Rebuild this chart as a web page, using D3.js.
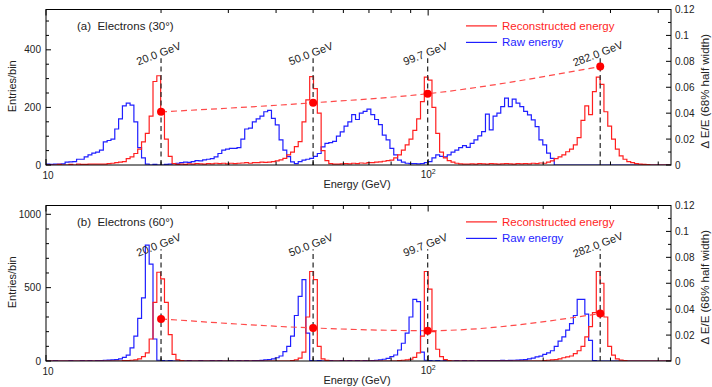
<!DOCTYPE html>
<html><head><meta charset="utf-8">
<script src="https://cdn.jsdelivr.net/npm/d3@7/dist/d3.min.js"></script>
<style>body{margin:0;background:#fff}svg{display:block;font-family:"Liberation Sans",Arial,Helvetica,sans-serif}</style>
</head><body><svg id="c" width="712" height="387"></svg>
<script>
// ---------------- data ----------------
const beamEnergies = [20.0, 50.0, 99.7, 282.0];
const beamLabels = ["20.0 GeV", "50.0 GeV", "99.7 GeV", "282.0 GeV"];
const resolutionA = [0.041, 0.048, 0.055, 0.076];
const resolutionB = [0.0325, 0.0255, 0.0234, 0.0366];

// histogram binning: log10(E) from 1.00 in steps of 0.01
const binLog0 = 1.0, binLogStep = 0.01, nBins = 164;

// Panel (a) Electrons 30 deg
const rawA = [
 3,2,3,3,4,10,11,12,20,20,
 28,35,41,45,52,80,85,90,125,160,
 205,215,208,150,60,25,3,0,2,0,
 0,2,3,5,6,8,10,9,12,15,
 14,18,20,22,28,40,52,55,58,58,
 60,90,125,128,150,160,170,185,190,162,
 139,87,52,29,11,5,12,17,20,23,
 30,40,63,75,78,82,100,115,135,150,
 175,158,180,186,194,175,158,140,104,87,
 58,35,17,10,6,5,5,4,5,8,
 12,25,35,30,28,35,45,52,60,67,
 61,75,87,101,116,177,122,170,180,203,
 232,203,229,215,203,186,174,157,133,87,
 70,41,23,0];
const recoA = [
 0,0,0,2,0,0,2,0,3,2,
 2,3,3,3,3,3,5,6,8,10,
 12,22,28,40,55,80,110,170,290,310,
 190,90,30,5,2,3,2,4,3,5,
 4,3,5,4,6,5,6,4,6,5,
 6,7,8,6,8,8,10,9,10,12,
 14,18,23,35,45,64,81,150,226,307,
 265,180,50,15,5,3,3,4,5,4,
 6,5,7,6,8,8,10,11,13,15,
 17,25,35,52,70,90,120,160,220,305,
 295,200,110,45,25,15,10,6,4,3,
 3,4,3,5,4,3,5,4,3,4,
 5,4,3,5,4,5,4,6,5,7,
 6,10,14,22,28,35,46,55,70,95,
 155,205,175,255,305,280,185,135,90,55,
 32,20,12,8,5,3,2,1,0];

// Panel (b) Electrons 60 deg
const rawB = [
 0,0,2,0,0,0,2,0,0,2,
 0,2,0,2,3,5,6,8,10,15,
 25,40,90,170,290,430,790,660,150,5,
 2,0,2,0,0,2,0,2,0,0,
 2,0,0,2,0,2,0,0,2,0,
 2,0,2,0,2,3,4,8,10,15,
 22,34,64,100,170,310,440,555,190,3,
 0,2,0,0,2,0,0,2,0,2,
 0,2,0,2,0,3,5,8,12,18,
 30,41,75,121,190,300,420,405,60,5,
 2,0,2,0,2,0,0,2,0,2,
 0,2,0,2,3,2,3,2,3,4,
 3,4,5,6,8,10,14,20,28,33,
 45,55,70,100,135,165,210,255,310,420,
 420,320,140,3,0];
const recoB = [
 0,0,0,0,0,0,0,0,0,0,
 0,0,0,0,0,0,0,0,0,0,
 2,3,5,8,15,30,55,150,400,605,
 560,400,180,45,8,3,0,0,0,0,
 0,0,0,0,0,0,0,0,0,0,
 0,0,0,0,0,0,0,0,0,0,
 0,0,0,0,3,8,20,60,300,610,
 555,100,15,4,0,0,0,0,0,0,
 0,0,0,0,0,0,0,0,0,0,
 0,0,3,5,8,12,25,55,170,610,
 490,200,80,30,10,3,0,0,0,0,
 0,0,0,0,0,0,0,0,0,0,
 0,0,0,0,0,0,0,0,0,0,
 3,5,8,10,15,22,28,34,50,70,
 100,165,235,330,610,530,300,100,40,15,
 6,3,0];

const xMajorTicks = [10, 100];
const xMinorTicks = [20, 30, 40, 50, 60, 70, 80, 90, 200, 300, 400];
const yTicksA = [0, 200, 400];
const yTicksB = [0, 500, 1000];
const resTicks = [0, 0.02, 0.04, 0.06, 0.08, 0.1, 0.12];
const resTickLabels = ["0", "0.02", "0.04", "0.06", "0.08", "0.1", "0.12"];
const legendLabels = ["Reconstructed energy", "Raw energy"];

// ---------------- drawing ----------------
const svg = d3.select("#c");
const L = 46, R = 671;
const RED = "#ff1f1f", BLUE = "#1f1fff", INK = "#222";
const x = d3.scaleLog().domain([10, 432]).range([L, R]);
const edges = d3.range(nBins + 1).map(i => Math.pow(10, binLog0 + i * binLogStep));

const panels = [
  {top: 9.5, bottom: 165, yMax: 540, major: yTicksA, minorStep: 50, raw: rawA, reco: recoA,
   res: resolutionA, title: "(a)  Electrons (30°)", lineTop: 0.687, id: "a"},
  {top: 205.5, bottom: 361, yMax: 1060, major: yTicksB, minorStep: 100, raw: rawB, reco: recoB,
   res: resolutionB, title: "(b)  Electrons (60°)", lineTop: 0.718, id: "b"}
];

panels.forEach(p => {
  const g = svg.append("g");
  const y = d3.scaleLinear().domain([0, p.yMax]).range([p.bottom, p.top]);
  const yr = d3.scaleLinear().domain([0, 0.12]).range([p.bottom, p.top]);

  g.append("clipPath").attr("id", "clip" + p.id)
    .append("rect").attr("x", L).attr("y", p.top - 10).attr("width", R - L).attr("height", p.bottom - p.top + 10);

  const plot = g.append("g").attr("clip-path", `url(#clip${p.id})`);

  const histLine = arr => {
    const pts = d3.range(nBins).map(i => [edges[i], arr[i] || 0]);
    pts.push([edges[nBins], arr[nBins - 1] || 0]);
    return d3.line().x(d => x(d[0])).y(d => y(d[1])).curve(d3.curveStepAfter)(pts);
  };
  plot.append("path").attr("d", histLine(p.raw)).attr("fill", "none")
    .attr("stroke", BLUE).attr("stroke-width", 1.2);
  plot.append("path").attr("d", histLine(p.reco)).attr("fill", "none")
    .attr("stroke", RED).attr("stroke-width", 1.2);

  // beam energy markers
  const yTop = p.bottom - p.lineTop * (p.bottom - p.top);
  beamEnergies.forEach((e, i) => {
    g.append("line").attr("x1", x(e)).attr("x2", x(e)).attr("y1", p.bottom).attr("y2", yTop)
      .attr("stroke", "#333").attr("stroke-width", 1.3).attr("stroke-dasharray", "5,3.5");
    g.append("text").attr("transform", `translate(${x(e) - 1},${yTop - 1}) rotate(-21)`)
      .attr("text-anchor", "middle").attr("font-size", 11).attr("fill", INK).text(beamLabels[i]);
  });

  // resolution curve
  const pts = beamEnergies.map((e, i) => [e, p.res[i]]);
  g.append("path").attr("d", d3.line().x(d => x(d[0])).y(d => yr(d[1])).curve(d3.curveMonotoneX)(pts))
    .attr("fill", "none").attr("stroke", "#ff4a4a").attr("stroke-width", 1.2).attr("stroke-dasharray", "6,4");
  g.selectAll(null).data(pts).join("circle").attr("cx", d => x(d[0])).attr("cy", d => yr(d[1]))
    .attr("r", 4).attr("fill", "#ff0000");

  // frame
  g.append("rect").attr("x", L).attr("y", p.top).attr("width", R - L).attr("height", p.bottom - p.top)
    .attr("fill", "none").attr("stroke", "#000").attr("stroke-width", 1);

  // x ticks (top & bottom, inward)
  const tick = (x1, y1, x2, y2) => g.append("line").attr("x1", x1).attr("y1", y1).attr("x2", x2).attr("y2", y2)
    .attr("stroke", "#000").attr("stroke-width", 1);
  xMajorTicks.forEach(t => { tick(x(t), p.bottom, x(t), p.bottom - 6); tick(x(t), p.top, x(t), p.top + 6); });
  xMinorTicks.forEach(t => { tick(x(t), p.bottom, x(t), p.bottom - 3.5); tick(x(t), p.top, x(t), p.top + 3.5); });
  // x tick labels
  g.append("text").attr("x", x(10) + 2).attr("y", p.bottom + 14).attr("text-anchor", "middle")
    .attr("font-size", 10).attr("fill", INK).text("10");
  const t2 = g.append("text").attr("x", x(100)).attr("y", p.bottom + 13).attr("text-anchor", "middle")
    .attr("font-size", 10).attr("fill", INK);
  t2.append("tspan").text("10");
  t2.append("tspan").attr("font-size", 7).attr("dy", -4).text("2");

  // left axis ticks
  d3.range(0, p.yMax + 0.001, p.minorStep).forEach(v => {
    const isMajor = p.major.includes(v);
    tick(L, y(v), L + (isMajor ? 5 : 3), y(v));
  });
  p.major.forEach(v => {
    g.append("text").attr("x", L - 5).attr("y", y(v)).attr("dy", "0.35em").attr("text-anchor", "end")
      .attr("font-size", 10).attr("fill", INK).text(v);
  });
  // right axis ticks
  d3.range(0, 13).forEach(k => {
    const v = k * 0.01;
    tick(R, yr(v), R - (k % 2 === 0 ? 5 : 3), yr(v));
  });
  resTicks.forEach((v, i) => {
    g.append("text").attr("x", R + 4).attr("y", yr(v)).attr("dy", "0.35em")
      .attr("font-size", 10).attr("fill", INK).text(resTickLabels[i]);
  });

  // axis titles
  const midY = (p.top + p.bottom) / 2;
  g.append("text").attr("transform", `translate(16,${midY - 1}) rotate(-90)`).attr("text-anchor", "middle")
    .attr("font-size", 11).attr("fill", INK).text("Entries/bin");
  g.append("text").attr("transform", `translate(709,${midY + 4}) rotate(-90)`).attr("text-anchor", "middle")
    .attr("font-size", 11.5).attr("fill", INK).text("Δ E/E (68% half width)");
  g.append("text").attr("x", 357).attr("y", p.bottom + 23).attr("text-anchor", "middle")
    .attr("font-size", 11).attr("fill", INK).text("Energy (GeV)");

  // panel title
  g.append("text").attr("x", 77).attr("y", p.top + 20.5).attr("font-size", 11.5).attr("fill", INK)
    .style("white-space", "pre").text(p.title);

  // legend
  [[RED, 0], [BLUE, 1]].forEach(([c, i]) => {
    const ly = p.top + 16.4 + i * 16.5;
    g.append("line").attr("x1", 466).attr("x2", 497).attr("y1", ly).attr("y2", ly)
      .attr("stroke", c).attr("stroke-width", 1.2);
    g.append("text").attr("x", 502).attr("y", ly + 4).attr("font-size", 11.5).attr("fill", c).text(legendLabels[i]);
  });
});
</script></body></html>
